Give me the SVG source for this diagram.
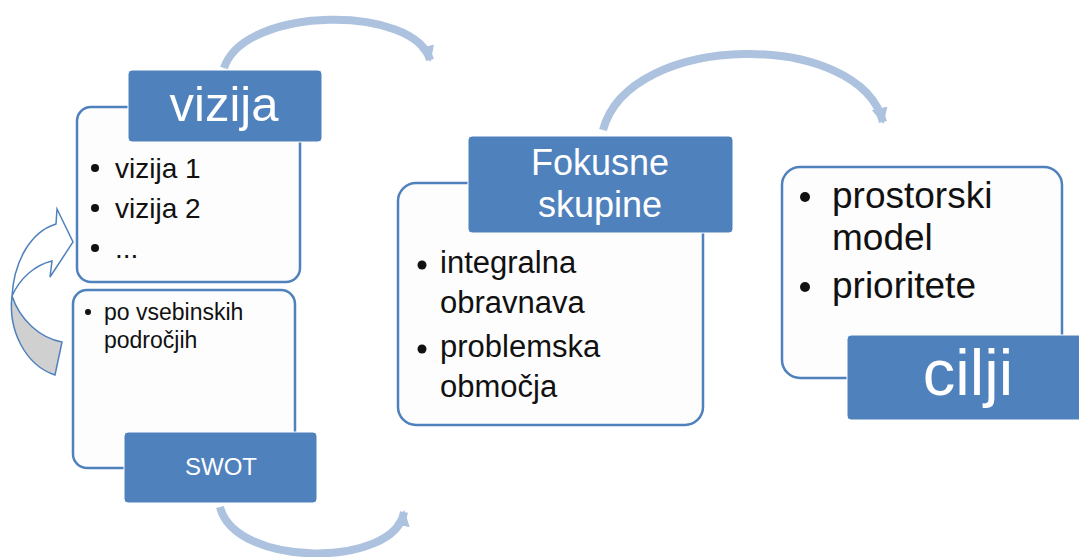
<svg xmlns="http://www.w3.org/2000/svg" width="1079" height="557" viewBox="0 0 1079 557">
<style>
.box{fill:#fdfdfd;stroke:#4f81bd;stroke-width:2.5}
.hdr{fill:#4f81bd;stroke:#ffffff;stroke-width:1}
.ht{fill:#ffffff;font-family:"Liberation Sans",Arial,sans-serif;text-anchor:middle}
.bt{fill:#111111;font-family:"Liberation Sans",Arial,sans-serif}
.arc{fill:none;stroke:#adc2df;stroke-width:8}
.bul{fill:#111111}
</style>
<defs>
<marker id="ah" markerUnits="userSpaceOnUse" markerWidth="18" markerHeight="18" refX="14" refY="9" orient="auto">
<path d="M0,1 L16,9 L0,17 Z" fill="#adc2df"/>
</marker>
</defs>
<rect width="1079" height="557" fill="#ffffff"/>
<g id="connectors">
<path class="arc" d="M224,68 C245,5 415,5 430,60" marker-end="url(#ah)"/>
<path class="arc" d="M603,130 C630,30 860,30 883,122" marker-end="url(#ah)"/>
<path class="arc" d="M220,507 C235,568 395,568 404,512" marker-end="url(#ah)"/>
<g id="cycle-arrow" stroke="#4f81bd" stroke-width="1.5" stroke-linejoin="miter">
<path d="M12,296 C8,330 25,365 55,375 L62,342 C40,338 20,320 12,296 Z" fill="#d0d0d0"/>
<path d="M12,296 C14,262 30,232 56,224 L57,209 L73,242 L50,277 L52,261 C35,265 20,278 12,296 Z" fill="#ffffff"/>
</g>
</g>
<g id="node-vizija">
<rect class="box" x="77" y="107" width="223" height="175" rx="14"/>
<rect class="hdr" x="128" y="70" width="194" height="72" rx="4"/>
<text class="ht" x="224" y="121" font-size="49">vizija</text>
<circle class="bul" cx="95" cy="168" r="4"/>
<text class="bt" x="115" y="178" font-size="28">vizija 1</text>
<circle class="bul" cx="95" cy="208" r="4"/>
<text class="bt" x="115" y="218" font-size="28">vizija 2</text>
<circle class="bul" cx="95" cy="248" r="4"/>
<text class="bt" x="115" y="258" font-size="28">...</text>
</g>
<g id="node-swot">
<rect class="box" x="73" y="290" width="222" height="178" rx="14"/>
<rect class="hdr" x="124" y="432" width="193" height="71" rx="4"/>
<text class="ht" x="221" y="475" font-size="24">SWOT</text>
<circle class="bul" cx="88" cy="312" r="3"/>
<text class="bt" x="104" y="320" font-size="23">po vsebinskih</text>
<text class="bt" x="104" y="348" font-size="23">področjih</text>
</g>
<g id="node-fokusne">
<rect class="box" x="398" y="183" width="305" height="242" rx="18"/>
<rect class="hdr" x="468" y="136" width="265" height="97" rx="4"/>
<text class="ht" x="600" y="175" font-size="36">Fokusne</text>
<text class="ht" x="600" y="217" font-size="36">skupine</text>
<circle class="bul" cx="422" cy="265" r="4.5"/>
<text class="bt" x="440" y="273" font-size="31">integralna</text>
<text class="bt" x="440" y="313" font-size="31">obravnava</text>
<circle class="bul" cx="422" cy="349" r="4.5"/>
<text class="bt" x="440" y="357" font-size="31">problemska</text>
<text class="bt" x="440" y="397" font-size="31">območja</text>
</g>
<g id="node-cilji">
<rect class="box" x="782" y="167" width="280" height="211" rx="18"/>
<rect class="hdr" x="847" y="335" width="243" height="85" rx="4"/>
<text class="ht" x="968" y="395" font-size="65">cilji</text>
<circle class="bul" cx="805" cy="197" r="5"/>
<text class="bt" x="832" y="208" font-size="37">prostorski</text>
<text class="bt" x="832" y="250" font-size="37">model</text>
<circle class="bul" cx="805" cy="287" r="5"/>
<text class="bt" x="832" y="298" font-size="37">prioritete</text>
</g>
</svg>
